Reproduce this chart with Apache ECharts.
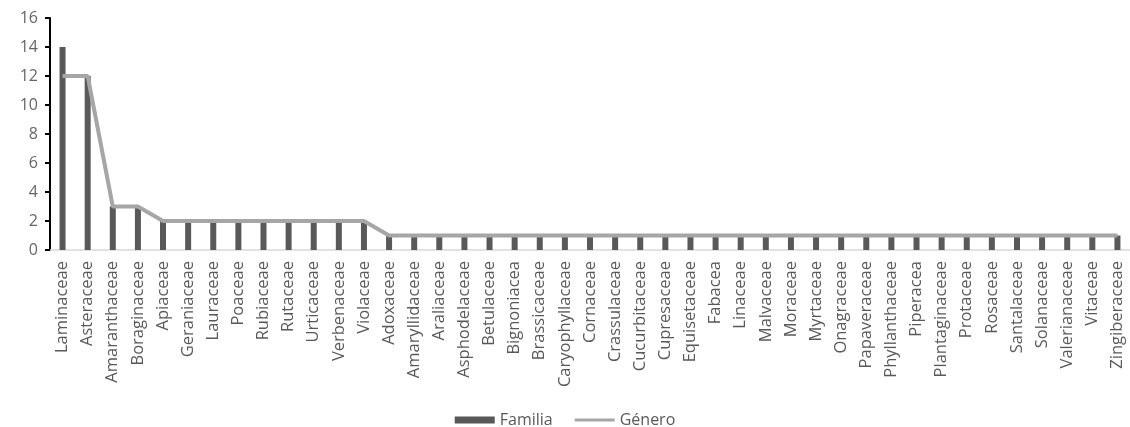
<!DOCTYPE html>
<html>
<head>
<meta charset="UTF-8">
<title>Familia y Género</title>
<script src="https://cdn.jsdelivr.net/npm/echarts@6/dist/echarts.min.js"></script>
<style>
  html, body { margin: 0; padding: 0; background: #fff; }
  #chart { width: 1130px; height: 427px; }
</style>
</head>
<body>
<div id="chart"></div>
<script>
// categorias (familias botanicas)
var familias = ['Laminaceae', 'Asteraceae', 'Amaranthaceae', 'Boraginaceae', 'Apiaceae', 'Geraniaceae',
  'Lauraceae', 'Poaceae', 'Rubiaceae', 'Rutaceae', 'Urticaceae', 'Verbenaceae', 'Violaceae',
  'Adoxaceae', 'Amaryllidaceae', 'Araliaceae', 'Asphodelaceae', 'Betulaceae', 'Bignoniacea',
  'Brassicaceae', 'Caryophyllaceae', 'Cornaceae', 'Crassulaceae', 'Cucurbitaceae', 'Cupresaceae',
  'Equisetaceae', 'Fabacea', 'Linaceae', 'Malvaceae', 'Moraceae', 'Myrtaceae', 'Onagraceae',
  'Papaveraceae', 'Phyllanthaceae', 'Piperacea', 'Plantaginaceae', 'Protaceae', 'Rosaceae',
  'Santalaceae', 'Solanaceae', 'Valerianaceae', 'Vitaceae', 'Zingiberaceae'];

// barras: Familia
var valFamilia = [14, 12, 3, 3, 2, 2, 2, 2, 2, 2, 2, 2, 2,
  1, 1, 1, 1, 1, 1, 1, 1, 1, 1, 1, 1, 1, 1, 1, 1, 1, 1, 1, 1, 1, 1, 1, 1, 1, 1, 1, 1, 1, 1];

// linea: Género
var valGenero = [12, 12, 3, 3, 2, 2, 2, 2, 2, 2, 2, 2, 2,
  1, 1, 1, 1, 1, 1, 1, 1, 1, 1, 1, 1, 1, 1, 1, 1, 1, 1, 1, 1, 1, 1, 1, 1, 1, 1, 1, 1, 1, 1];

var myChart = echarts.init(document.getElementById('chart'));

var fuente = 'Open Sans';
var option = {
  animation: false,
  textStyle: { fontFamily: fuente },
  grid: { left: 50, right: 0, top: 18, bottom: 177, containLabel: false },
  legend: {
    top: 407,
    left: 'center',
    itemWidth: 40,
    itemHeight: 7,
    itemGap: 22,
    textStyle: { color: '#595959', fontSize: 16, fontFamily: fuente },
    data: [
      { name: 'Familia', icon: 'rect' },
      { name: 'Género', icon: 'path://M0,0 M0,2h40v3h-40z M40,7' }
    ]
  },
  xAxis: {
    type: 'category',
    data: familias,
    axisLine: { lineStyle: { color: '#d9d9d9', width: 1.5 } },
    axisTick: { show: false },
    axisLabel: {
      interval: 0,
      rotate: 90,
      color: '#595959',
      fontSize: 16.5,
      margin: 11
    }
  },
  yAxis: {
    type: 'value',
    min: 0,
    max: 16,
    interval: 2,
    axisLine: { show: true, lineStyle: { color: '#000', width: 2 } },
    axisTick: { show: true, length: 5, lineStyle: { color: '#000', width: 2 } },
    splitLine: { show: false },
    axisLabel: { color: '#666', fontSize: 16, margin: 12 }
  },
  series: [{
    name: 'Familia',
    type: 'bar',
    data: valFamilia,
    barWidth: 6,
    itemStyle: { color: '#595959' }
  }, {
    name: 'Género',
    type: 'line',
    data: valGenero,
    symbol: 'none',
    lineStyle: { color: '#a6a6a6', width: 4 },
    itemStyle: { color: '#a6a6a6' }
  }]
};

myChart.setOption(option);
</script>
</body>
</html>
